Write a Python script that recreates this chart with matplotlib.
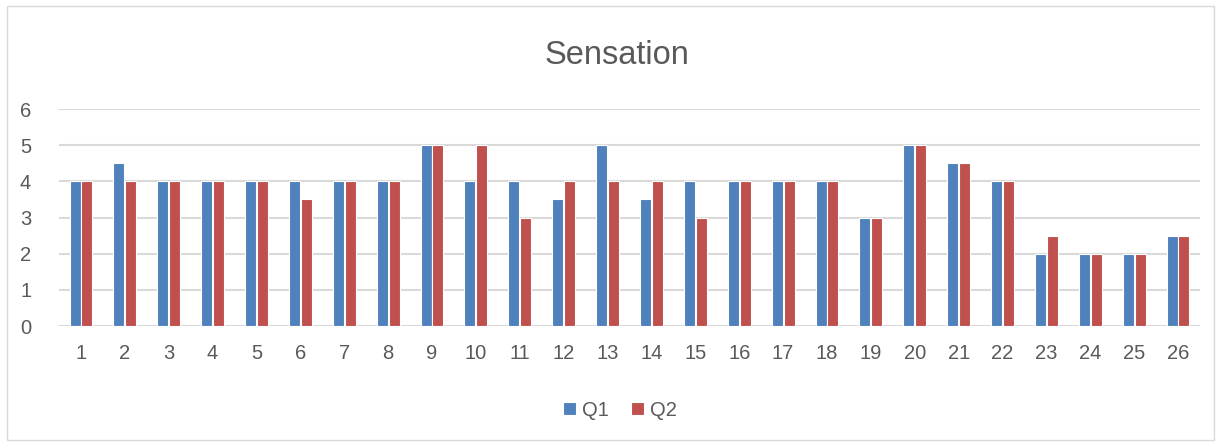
#!/usr/bin/env python3

import numpy as np
import matplotlib
matplotlib.use("Agg")
import matplotlib.pyplot as plt
from matplotlib.patches import Rectangle

categories = [str(i) for i in range(1, 27)]
q1 = [4, 4.5, 4, 4, 4, 4, 4, 4, 5, 4, 4, 3.5, 5, 3.5, 4, 4, 4, 4, 3, 5, 4.5, 4, 2, 2, 2, 2.5]
q2 = [4, 4, 4, 4, 4, 3.5, 4, 4, 5, 5, 3, 4, 4, 4, 3, 4, 4, 4, 3, 5, 4.5, 4, 2.5, 2, 2, 2.5]
yticks = [0, 1, 2, 3, 4, 5, 6]

BLUE = "#4F81BD"
RED = "#C0504D"
TEXT = "#595959"
GRID = "#D9D9D9"


def main():
    plt.rcParams['font.family'] = ['Liberation Sans', 'DejaVu Sans']
    fig = plt.figure(figsize=(12.21, 4.45), dpi=100)
    # chart border
    fig.patches.append(Rectangle((7 / 1221, 5 / 445), 1207 / 1221, 434 / 445,
                                 transform=fig.transFigure, fill=False,
                                 edgecolor="#D9D9D9", linewidth=1))

    ax = fig.add_axes([59 / 1221, 1 - 326 / 445, 1141 / 1221, 217 / 445])
    x = np.arange(len(categories))
    w = 0.25
    ax.bar(x - w / 2 - 0.01, q1, w, color=BLUE, edgecolor="white", linewidth=0.8,
           label="Q1", zorder=3)
    ax.bar(x + w / 2 + 0.01, q2, w, color=RED, edgecolor="white", linewidth=0.8,
           label="Q2", zorder=3)

    ax.set_xlim(-0.5, len(categories) - 0.5)
    ax.set_ylim(0, 6)
    ax.set_xticks(x)
    ax.set_xticklabels(categories)
    ax.set_yticks(yticks)
    ax.tick_params(axis="both", length=0, labelsize=14.5, colors=TEXT)
    ax.tick_params(axis="x", pad=13)
    ax.tick_params(axis="y", pad=20)
    for s in ax.spines.values():
        s.set_visible(False)
    ax.yaxis.grid(True, color=GRID, linewidth=1.5, zorder=0)
    ax.set_axisbelow(True)

    fig.text(0.505, 1 - 55 / 445, "Sensation", ha="center", va="center",
             fontsize=23.5, color=TEXT)

    leg = fig.legend(loc="center", bbox_to_anchor=(0.508, 1 - 410 / 445), ncol=2,
                     frameon=False, fontsize=14.5, handlelength=0.65, handleheight=0.65,
                     handletextpad=0.3, columnspacing=1.1)
    for t in leg.get_texts():
        t.set_color(TEXT)

    fig.savefig("out.png", dpi=100)


if __name__ == "__main__":
    main()
